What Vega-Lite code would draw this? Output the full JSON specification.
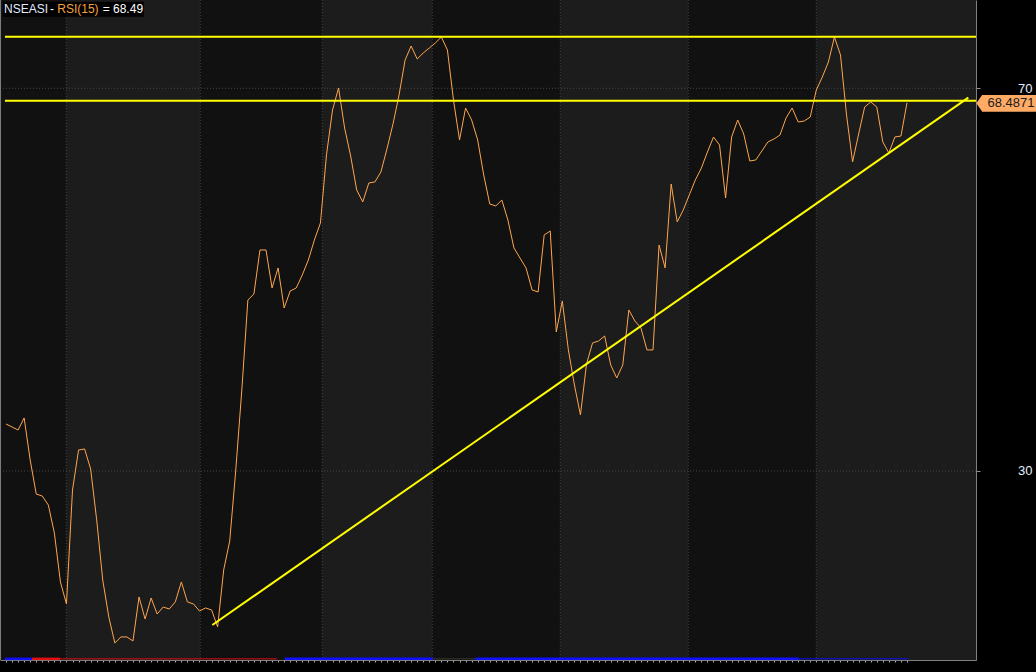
{
  "$schema": "https://vega.github.io/schema/vega-lite/v6.json",
  "width": 976,
  "height": 660,
  "autosize": {"type": "none"},
  "padding": {"left": 0, "top": 0, "right": 60, "bottom": 12},
  "background": "#000000",
  "config": {"view": {"stroke": null, "fill": "#111111"}, "font": "Liberation Sans"},
  "resolve": {"axis": {"x": "independent", "y": "independent"}},
  "datasets": {
    "rsi": [
      {"i":0,"rsi":34.91},{"i":1,"rsi":34.60},{"i":2,"rsi":34.28},{"i":3,"rsi":35.54},{"i":4,"rsi":31.15},
      {"i":5,"rsi":27.59},{"i":6,"rsi":27.38},{"i":7,"rsi":26.44},{"i":8,"rsi":23.52},{"i":9,"rsi":18.40},
      {"i":10,"rsi":16.10},{"i":11,"rsi":28.01},{"i":12,"rsi":32.19},{"i":13,"rsi":32.30},{"i":14,"rsi":30.21},
      {"i":15,"rsi":24.88},{"i":16,"rsi":18.60},{"i":17,"rsi":14.74},{"i":18,"rsi":12.02},{"i":19,"rsi":12.65},
      {"i":20,"rsi":12.65},{"i":21,"rsi":12.23},{"i":22,"rsi":16.83},{"i":23,"rsi":14.53},{"i":24,"rsi":16.72},
      {"i":25,"rsi":15.05},{"i":26,"rsi":15.78},{"i":27,"rsi":15.57},{"i":28,"rsi":16.31},{"i":29,"rsi":18.40},
      {"i":30,"rsi":16.31},{"i":31,"rsi":16.10},{"i":32,"rsi":15.36},{"i":33,"rsi":15.68},{"i":34,"rsi":15.47},
      {"i":35,"rsi":13.69},{"i":36,"rsi":19.65},{"i":37,"rsi":22.68},{"i":38,"rsi":30.10},{"i":39,"rsi":38.46},
      {"i":40,"rsi":47.87},{"i":41,"rsi":48.50},{"i":42,"rsi":53.10},{"i":43,"rsi":53.10},{"i":44,"rsi":49.13},
      {"i":45,"rsi":51.22},{"i":46,"rsi":47.04},{"i":47,"rsi":48.81},{"i":48,"rsi":49.13},{"i":49,"rsi":50.49},
      {"i":50,"rsi":52.05},{"i":51,"rsi":54.14},{"i":52,"rsi":55.92},{"i":53,"rsi":63.03},{"i":54,"rsi":67.73},
      {"i":55,"rsi":70.03},{"i":56,"rsi":65.85},{"i":57,"rsi":62.92},{"i":58,"rsi":59.37},{"i":59,"rsi":58.12},
      {"i":60,"rsi":60.10},{"i":61,"rsi":60.21},{"i":62,"rsi":61.25},{"i":63,"rsi":63.66},{"i":64,"rsi":66.27},
      {"i":65,"rsi":69.30},{"i":66,"rsi":72.96},{"i":67,"rsi":74.42},{"i":68,"rsi":73.06},{"i":69,"rsi":73.69},
      {"i":70,"rsi":74.21},{"i":71,"rsi":74.74},{"i":72,"rsi":75.36},{"i":73,"rsi":74.00},{"i":74,"rsi":68.78},
      {"i":75,"rsi":64.60},{"i":76,"rsi":67.94},{"i":77,"rsi":66.69},{"i":78,"rsi":64.60},{"i":79,"rsi":60.94},
      {"i":80,"rsi":57.91},{"i":81,"rsi":57.70},{"i":82,"rsi":58.32},{"i":83,"rsi":56.23},{"i":84,"rsi":53.31},
      {"i":85,"rsi":52.26},{"i":86,"rsi":51.22},{"i":87,"rsi":48.92},{"i":88,"rsi":48.71},{"i":89,"rsi":54.67},
      {"i":90,"rsi":55.08},{"i":91,"rsi":44.53},{"i":92,"rsi":47.77},{"i":93,"rsi":42.65},{"i":94,"rsi":38.99},
      {"i":95,"rsi":35.85},{"i":96,"rsi":41.18},{"i":97,"rsi":43.38},{"i":98,"rsi":43.59},{"i":99,"rsi":44.11},
      {"i":100,"rsi":41.08},{"i":101,"rsi":39.72},{"i":102,"rsi":41.08},{"i":103,"rsi":46.83},{"i":104,"rsi":45.68},
      {"i":105,"rsi":44.95},{"i":106,"rsi":42.65},{"i":107,"rsi":42.65},{"i":108,"rsi":53.62},{"i":109,"rsi":51.22},
      {"i":110,"rsi":60.00},{"i":111,"rsi":56.03},{"i":112,"rsi":57.28},{"i":113,"rsi":58.85},{"i":114,"rsi":60.42},
      {"i":115,"rsi":61.67},{"i":116,"rsi":63.34},{"i":117,"rsi":64.91},{"i":118,"rsi":64.07},{"i":119,"rsi":58.53},
      {"i":120,"rsi":64.91},{"i":121,"rsi":66.69},{"i":122,"rsi":65.22},{"i":123,"rsi":62.40},{"i":124,"rsi":62.51},
      {"i":125,"rsi":63.45},{"i":126,"rsi":64.39},{"i":127,"rsi":64.70},{"i":128,"rsi":65.12},{"i":129,"rsi":66.90},
      {"i":130,"rsi":67.94},{"i":131,"rsi":66.48},{"i":132,"rsi":66.58},{"i":133,"rsi":67.00},{"i":134,"rsi":69.82},
      {"i":135,"rsi":71.18},{"i":136,"rsi":72.75},{"i":137,"rsi":75.36},{"i":138,"rsi":73.48},{"i":139,"rsi":67.21},
      {"i":140,"rsi":62.30},{"i":141,"rsi":65.22},{"i":142,"rsi":68.05},{"i":143,"rsi":68.57},{"i":144,"rsi":68.05},
      {"i":145,"rsi":64.39},{"i":146,"rsi":63.24},{"i":147,"rsi":64.91},{"i":148,"rsi":65.01},{"i":149,"rsi":68.49}
    ],
    "bands": [
      {"start":-0.99,"end":9.97,"shade":"dark"},
      {"start":9.97,"end":32.13,"shade":"light"},
      {"start":32.13,"end":52.31,"shade":"dark"},
      {"start":52.31,"end":70.5,"shade":"light"},
      {"start":70.5,"end":91.66,"shade":"dark"},
      {"start":91.66,"end":112.83,"shade":"light"},
      {"start":112.83,"end":134.0,"shade":"dark"},
      {"start":134.0,"end":160.41,"shade":"light"}
    ],
    "signals": [
      {"from":-0.17,"to":4.3,"signal":"buy","strength":"strong"},
      {"from":4.3,"to":8.93,"signal":"sell","strength":"strong"},
      {"from":8.93,"to":44.8,"signal":"sell","strength":"weak"},
      {"from":46.1,"to":70.6,"signal":"buy","strength":"strong"},
      {"from":70.6,"to":77.6,"signal":"neutral","strength":"weak"},
      {"from":77.6,"to":131.1,"signal":"buy","strength":"strong"},
      {"from":131.1,"to":149.2,"signal":"buy","strength":"weak"}
    ],
    "levels": [{"level":75.39},{"level":68.71}],
    "grid": [{"g":70},{"g":30}],
    "one": [{}]
  },
  "layer": [
    {
      "data": {"name": "bands"},
      "mark": {"type": "rect"},
      "encoding": {
        "x": {"field":"start","type":"quantitative","scale":{"domain":[-0.99,160.41],"nice":false,"zero":false},"axis":null},
        "x2": {"field":"end"},
        "fill": {"field":"shade","type":"nominal","scale":{"domain":["dark","light"],"range":["#111111","#1c1c1c"]},"legend":null}
      }
    },
    {
      "data": {"name": "bands"},
      "transform": [{"filter": "datum.start > 0"}],
      "mark": {"type": "rule", "color": "#444444", "strokeDash": [1,2], "strokeWidth": 1},
      "encoding": {
        "x": {"field":"start","type":"quantitative","scale":{"domain":[-0.99,160.41],"nice":false,"zero":false},"axis":null}
      }
    },
    {
      "data": {"name": "grid"},
      "mark": {"type": "rule", "color": "#444444", "strokeDash": [1,2], "strokeWidth": 1},
      "encoding": {
        "y": {"field":"g","type":"quantitative","scale":{"domain":[10.24,79.23],"nice":false,"zero":false},"axis":null}
      }
    },
    {
      "data": {"name": "signals"},
      "mark": {"type": "rule"},
      "encoding": {
        "x": {"field":"from","type":"quantitative","scale":{"domain":[-0.99,160.41],"nice":false,"zero":false},"axis":null},
        "x2": {"field":"to"},
        "y": {"datum":10.36,"type":"quantitative","scale":{"domain":[10.24,79.23],"nice":false,"zero":false},"axis":null},
        "color": {"field":"signal","type":"nominal","scale":{"domain":["buy","sell","neutral"],"range":["#1010ff","#e01010","#3a3a30"]},"legend":null},
        "strokeWidth": {"field":"strength","type":"nominal","scale":{"domain":["strong","weak"],"range":[2.5,1]},"legend":null}
      }
    },
    {
      "data": {"name": "rsi"},
      "mark": {"type": "line", "color": "#ffa64d", "strokeWidth": 1, "interpolate": "linear"},
      "encoding": {
        "x": {"field":"i","type":"quantitative","scale":{"domain":[-0.99,160.41],"nice":false,"zero":false},
              "axis":{"orient":"bottom","values":[0,1,2,3,4,5,6,7,8,9,10,11,12,13,14,15,16,17,18,19,20,21,22,23,24,25,26,27,28,29,30,31,32,33,34,35,36,37,38,39,40,41,42,43,44,45,46,47,48,49,50,51,52,53,54,55,56,57,58,59,60,61,62,63,64,65,66,67,68,69,70,71,72,73,74,75,76,77,78,79,80,81,82,83,84,85,86,87,88,89,90,91,92,93,94,95,96,97,98,99,100,101,102,103,104,105,106,107,108,109,110,111,112,113,114,115,116,117,118,119,120,121,122,123,124,125,126,127,128,129,130,131,132,133,134,135,136,137,138,139,140,141,142,143,144,145,146,147,148,149],
                      "labels":false,"ticks":true,"tickSize":2,"tickColor":"#b0b0b0","domain":true,"domainColor":"#808080","grid":false,"title":null}},
        "y": {"field":"rsi","type":"quantitative","scale":{"domain":[10.24,79.23],"nice":false,"zero":false},
              "axis":{"orient":"right","values":[30,70],"tickSize":4,"tickColor":"#909090","domain":true,"domainColor":"#808080","grid":false,"title":null,
                      "labelColor":"#e2eeff","labelFont":"Liberation Sans","labelFontSize":13,"labelAlign":"right","labelBaseline":"middle","labelPadding":52}}
      }
    },
    {
      "data": {"name": "levels"},
      "mark": {"type": "rule", "color": "#ffff00", "strokeWidth": 2},
      "encoding": {
        "x": {"datum":-0.17,"type":"quantitative","scale":{"domain":[-0.99,160.41],"nice":false,"zero":false},"axis":null},
        "x2": {"datum":160.41},
        "y": {"field":"level","type":"quantitative","scale":{"domain":[10.24,79.23],"nice":false,"zero":false},"axis":null}
      }
    },
    {
      "data": {"name": "one"},
      "mark": {"type": "rule", "color": "#ffff00", "strokeWidth": 2},
      "encoding": {
        "x": {"datum":34.12,"type":"quantitative","scale":{"domain":[-0.99,160.41],"nice":false,"zero":false},"axis":null},
        "x2": {"datum":159.14},
        "y": {"datum":13.90,"type":"quantitative","scale":{"domain":[10.24,79.23],"nice":false,"zero":false},"axis":null},
        "y2": {"datum":69.02}
      }
    },
    {
      "data": {"name": "one"},
      "mark": {"type": "rule", "color": "#808080", "strokeWidth": 1},
      "encoding": {
        "x": {"datum":-0.9,"type":"quantitative","scale":{"domain":[-0.99,160.41],"nice":false,"zero":false},"axis":null},
        "y": {"datum":10.24,"type":"quantitative","scale":{"domain":[10.24,79.23],"nice":false,"zero":false},"axis":null},
        "y2": {"datum":79.23}
      }
    },
    {
      "data": {"name": "one"},
      "mark": {"type": "rect", "color": "#000000"},
      "encoding": {
        "x": {"datum":-0.5,"type":"quantitative","scale":{"domain":[-0.99,160.41],"nice":false,"zero":false},"axis":null},
        "x2": {"datum":22.82},
        "y": {"datum":77.48,"type":"quantitative","scale":{"domain":[10.24,79.23],"nice":false,"zero":false},"axis":null},
        "y2": {"datum":79.05}
      }
    },
    {
      "data": {"name": "one"},
      "mark": {"type": "text", "align": "left", "baseline": "alphabetic", "fontSize": 12, "font": "Liberation Sans", "color": "#e0ecff", "text": "NSEASI"},
      "encoding": {
        "x": {"datum":-0.33,"type":"quantitative","scale":{"domain":[-0.99,160.41],"nice":false,"zero":false},"axis":null},
        "y": {"datum":77.87,"type":"quantitative","scale":{"domain":[10.24,79.23],"nice":false,"zero":false},"axis":null}
      }
    },
    {
      "data": {"name": "one"},
      "mark": {"type": "text", "align": "left", "baseline": "alphabetic", "fontSize": 12, "font": "Liberation Sans", "color": "#ffffff", "text": "-"},
      "encoding": {
        "x": {"datum":7.28,"type":"quantitative","scale":{"domain":[-0.99,160.41],"nice":false,"zero":false},"axis":null},
        "y": {"datum":77.87,"type":"quantitative","scale":{"domain":[10.24,79.23],"nice":false,"zero":false},"axis":null}
      }
    },
    {
      "data": {"name": "one"},
      "mark": {"type": "text", "align": "left", "baseline": "alphabetic", "fontSize": 12, "font": "Liberation Sans", "color": "#f7a040", "text": "RSI(15)"},
      "encoding": {
        "x": {"datum":8.48,"type":"quantitative","scale":{"domain":[-0.99,160.41],"nice":false,"zero":false},"axis":null},
        "y": {"datum":77.87,"type":"quantitative","scale":{"domain":[10.24,79.23],"nice":false,"zero":false},"axis":null}
      }
    },
    {
      "data": {"name": "one"},
      "mark": {"type": "text", "align": "left", "baseline": "alphabetic", "fontSize": 12, "font": "Liberation Sans", "color": "#ffffff", "text": "= 68.49"},
      "encoding": {
        "x": {"datum":15.99,"type":"quantitative","scale":{"domain":[-0.99,160.41],"nice":false,"zero":false},"axis":null},
        "y": {"datum":77.87,"type":"quantitative","scale":{"domain":[10.24,79.23],"nice":false,"zero":false},"axis":null}
      }
    },
    {
      "data": {"name": "one"},
      "mark": {"type": "rect", "color": "#ffab66"},
      "encoding": {
        "x": {"datum":161.4,"type":"quantitative","scale":{"domain":[-0.99,160.41],"nice":false,"zero":false},"axis":null},
        "x2": {"datum":170.33},
        "y": {"datum":67.55,"type":"quantitative","scale":{"domain":[10.24,79.23],"nice":false,"zero":false},"axis":null},
        "y2": {"datum":69.30}
      }
    },
    {
      "data": {"name": "one"},
      "mark": {"type": "point", "shape": "M0,-1L-0.7,0L0,1Z", "filled": true, "color": "#ffab66", "size": 289, "opacity": 1},
      "encoding": {
        "x": {"datum":161.45,"type":"quantitative","scale":{"domain":[-0.99,160.41],"nice":false,"zero":false},"axis":null},
        "y": {"datum":68.43,"type":"quantitative","scale":{"domain":[10.24,79.23],"nice":false,"zero":false},"axis":null}
      }
    },
    {
      "data": {"name": "one"},
      "mark": {"type": "text", "align": "left", "baseline": "middle", "fontSize": 13, "font": "Liberation Sans", "color": "#1a1a1a", "text": "68.4871"},
      "encoding": {
        "x": {"datum":162.31,"type":"quantitative","scale":{"domain":[-0.99,160.41],"nice":false,"zero":false},"axis":null},
        "y": {"datum":68.43,"type":"quantitative","scale":{"domain":[10.24,79.23],"nice":false,"zero":false},"axis":null}
      }
    }
  ]
}
